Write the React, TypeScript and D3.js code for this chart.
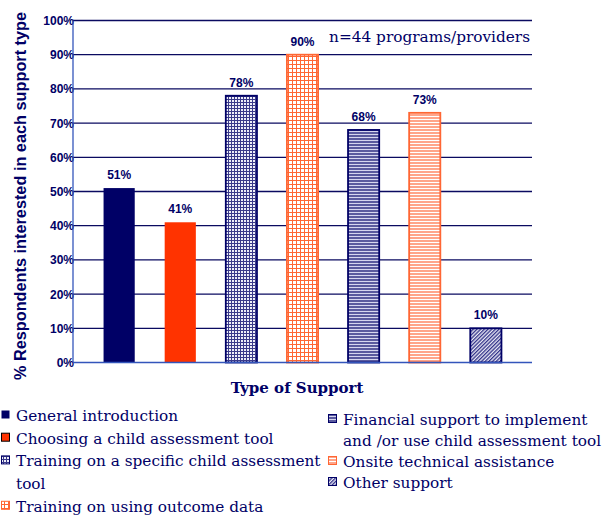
import { useEffect, useRef } from "react"
import * as d3 from "d3"

const supportTypes = [
  "General introduction",
  "Choosing a child assessment tool",
  "Training on a specific child assessment tool",
  "Training on using outcome data",
  "Financial support to implement and /or use child assessment tool",
  "Onsite technical assistance",
  "Other support",
]
const percentInterested = [51, 41, 78, 90, 68, 73, 10]
const yTicks = [0, 10, 20, 30, 40, 50, 60, 70, 80, 90, 100]
// legend text as it wraps in the original
const legendLines = [
  ["General introduction"],
  ["Choosing a child assessment tool"],
  ["Training on a specific child assessment", "tool"],
  ["Training on using outcome data"],
  ["Financial support to implement", "and /or use child assessment tool"],
  ["Onsite technical assistance"],
  ["Other support"],
]

const NAVY = "#000066"
const RED = "#ff3300"
const ORANGE = "#ff6633"
const fills = [NAVY, RED, "url(#gridNavy)", "url(#gridOrange)", "url(#hNavy)", "url(#hOrange)", "url(#diagNavy)"]
const strokes = [NAVY, RED, NAVY, ORANGE, NAVY, ORANGE, NAVY]

const W = 614
const H = 518
const margin = { left: 73, right: 82, top: 20.5, bottom: 155.5 }

export default function App() {
  const svgRef = useRef<SVGSVGElement>(null)

  useEffect(() => {
    const svg = d3.select(svgRef.current)
    svg.selectAll("*").remove()

    const x = d3
      .scaleBand<string>()
      .domain(supportTypes)
      .range([margin.left, W - margin.right])
      .paddingInner(0.49)
      .paddingOuter(0.5)
    const y = d3.scaleLinear().domain([0, 100]).range([H - margin.bottom, margin.top])

    // patterns
    const defs = svg.append("defs")
    const gn = defs.append("pattern").attr("id", "gridNavy").attr("patternUnits", "userSpaceOnUse").attr("width", 3).attr("height", 3)
    gn.append("rect").attr("width", 3).attr("height", 3).attr("fill", "#eeeef8")
    gn.append("path").attr("d", "M0 0.5H3M0.5 0V3").attr("stroke", "#3a3a8a").attr("stroke-width", 1)

    const go = defs.append("pattern").attr("id", "gridOrange").attr("patternUnits", "userSpaceOnUse").attr("width", 4).attr("height", 4)
    go.append("rect").attr("width", 4).attr("height", 4).attr("fill", "#fff")
    go.append("path").attr("d", "M0 0.5H4M0.5 0V4").attr("stroke", ORANGE).attr("stroke-width", 1)

    const hn = defs.append("pattern").attr("id", "hNavy").attr("patternUnits", "userSpaceOnUse").attr("width", 3).attr("height", 3)
    hn.append("rect").attr("width", 3).attr("height", 3).attr("fill", "#d6d6ee")
    hn.append("rect").attr("width", 3).attr("height", 2).attr("fill", "#5a5a9e")

    const ho = defs.append("pattern").attr("id", "hOrange").attr("patternUnits", "userSpaceOnUse").attr("width", 3).attr("height", 3)
    ho.append("rect").attr("width", 3).attr("height", 3).attr("fill", "#fff")
    ho.append("rect").attr("width", 3).attr("height", 2).attr("fill", "#ffa58a")

    const dn = defs
      .append("pattern")
      .attr("id", "diagNavy")
      .attr("patternUnits", "userSpaceOnUse")
      .attr("width", 2.6)
      .attr("height", 2.6)
      .attr("patternTransform", "rotate(45)")
    dn.append("rect").attr("width", 2.6).attr("height", 2.6).attr("fill", "#e8e8f4")
    dn.append("rect").attr("width", 1.3).attr("height", 2.6).attr("fill", "#34348a")

    // gridlines
    svg
      .append("g")
      .selectAll("line")
      .data(yTicks.filter((t) => t > 0))
      .enter()
      .append("line")
      .attr("x1", margin.left)
      .attr("x2", W - margin.right)
      .attr("y1", (d) => y(d))
      .attr("y2", (d) => y(d))
      .attr("stroke", "#0a0a60")
      .attr("stroke-width", 1.3)

    // tick labels
    svg
      .append("g")
      .selectAll("text")
      .data(yTicks)
      .enter()
      .append("text")
      .attr("x", margin.left + 1)
      .attr("y", (d) => y(d) + 4.5)
      .attr("text-anchor", "end")
      .attr("font-family", "'Liberation Sans', Arial, sans-serif")
      .attr("font-weight", "bold")
      .attr("font-size", "12px")
      .attr("fill", NAVY)
      .text((d) => `${d}%`)

    // bars
    const bars = svg.append("g")
    bars
      .selectAll("rect")
      .data(percentInterested)
      .enter()
      .append("rect")
      .attr("x", (d, i) => x(supportTypes[i])!)
      .attr("y", (d) => y(d))
      .attr("width", x.bandwidth())
      .attr("height", (d) => y(0) - y(d))
      .attr("fill", (d, i) => fills[i])
      .attr("stroke", (d, i) => strokes[i])
      .attr("stroke-width", (d, i) => (i < 2 ? 0 : 1.8))

    bars
      .selectAll("text")
      .data(percentInterested)
      .enter()
      .append("text")
      .attr("x", (d, i) => x(supportTypes[i])! + x.bandwidth() / 2)
      .attr("y", (d) => y(d) - 9)
      .attr("text-anchor", "middle")
      .attr("font-family", "'Liberation Sans', Arial, sans-serif")
      .attr("font-weight", "bold")
      .attr("font-size", "12px")
      .attr("fill", NAVY)
      .text((d) => `${d}%`)

    // axis lines
    svg
      .append("line")
      .attr("x1", margin.left)
      .attr("x2", W - margin.right)
      .attr("y1", y(0))
      .attr("y2", y(0))
      .attr("stroke", "#3355bb")
      .attr("stroke-width", 1.3)
    svg
      .append("line")
      .attr("x1", margin.left)
      .attr("x2", margin.left)
      .attr("y1", y(100))
      .attr("y2", y(0))
      .attr("stroke", "#3355bb")
      .attr("stroke-width", 1.3)

    // titles
    svg
      .append("text")
      .attr("transform", `translate(26,196) rotate(-90)`)
      .attr("text-anchor", "middle")
      .attr("font-family", "'Liberation Sans', Arial, sans-serif")
      .attr("font-weight", "bold")
      .attr("font-size", "16.3px")
      .attr("fill", NAVY)
      .text("% Respondents interested in each support type")

    svg
      .append("text")
      .attr("x", 297)
      .attr("y", 393)
      .attr("text-anchor", "middle")
      .attr("font-family", "'DejaVu Serif', serif")
      .attr("font-weight", "bold")
      .attr("font-size", "15px")
      .attr("fill", NAVY)
      .text("Type of Support")

    svg
      .append("text")
      .attr("x", 530)
      .attr("y", 42)
      .attr("text-anchor", "end")
      .attr("font-family", "'DejaVu Serif', serif")
      .attr("font-size", "15.3px")
      .attr("fill", NAVY)
      .text("n=44 programs/providers")

    // legend
    const cols = [
      { items: [0, 1, 2, 3], x: 1, y0: 421, lh: 22.7 },
      { items: [4, 5, 6], x: 328, y0: 425, lh: 21 },
    ]
    const legend = svg.append("g")
    cols.forEach((col) => {
      let line = 0
      col.items.forEach((i) => {
        const by = col.y0 + line * col.lh
        legend
          .append("rect")
          .attr("x", col.x + 0.5)
          .attr("y", by - 10.5)
          .attr("width", 8)
          .attr("height", 8)
          .attr("fill", fills[i])
          .attr("stroke", i === 1 ? "#000" : strokes[i])
          .attr("stroke-width", i === 0 ? 0 : 1)
        legendLines[i].forEach((txt, k) => {
          legend
            .append("text")
            .attr("x", col.x + 15)
            .attr("y", by + k * col.lh)
            .attr("font-family", "'DejaVu Serif', serif")
            .attr("font-size", "15.3px")
            .attr("fill", NAVY)
            .text(txt)
        })
        line += legendLines[i].length
      })
    })
  }, [])

  return <svg ref={svgRef} width={W} height={H} style={{ position: "absolute", left: 0, top: 0, background: "#fff" }} />
}
